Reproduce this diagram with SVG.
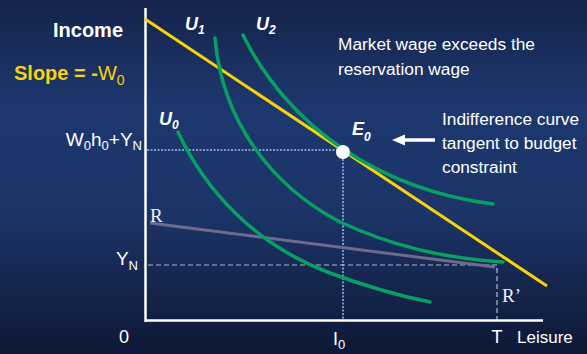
<svg xmlns="http://www.w3.org/2000/svg" width="587" height="354" viewBox="0 0 587 354">
<defs>
<linearGradient id="bg" x1="0" y1="0" x2="0" y2="1">
<stop offset="0" stop-color="#15234a"/>
<stop offset="0.3" stop-color="#1d386f"/>
<stop offset="0.6" stop-color="#1c3468"/>
<stop offset="1" stop-color="#0e1835"/>
</linearGradient>
<marker id="ah" markerWidth="13" markerHeight="12" refX="3" refY="6" orient="auto" markerUnits="userSpaceOnUse">
<path d="M0,0.5 L13,6 L0,11.5 Z" fill="#ffffff"/>
</marker>
<style>
text{font-family:"Liberation Sans",Arial,sans-serif;fill:#ffffff}
.serif{font-family:"Liberation Serif","Times New Roman",serif;fill:#f0f0f5}
.ulab{font-weight:bold;font-style:italic}
.curve{fill:none;stroke:#07a062;stroke-width:3.5;stroke-linecap:round}
.axis{stroke:#ffffff;stroke-width:2.5;fill:none}
.dot{stroke:#9cbcf0;stroke-width:1.5;stroke-dasharray:2 1.5;fill:none}
.dash{stroke:#b4bcd6;stroke-width:1.2;stroke-dasharray:5 3;fill:none}
</style>
</defs>
<rect width="587" height="354" fill="url(#bg)"/>

<g id="guides">
<path class="dot" d="M147,150 H343 M343,152 V320"/>
<path class="dash" d="M148,265 H497 V320"/>
</g>

<g id="axes">
<path class="axis" d="M145.5,8 V322"/>
<path class="axis" d="M145,320.5 H543"/>
</g>

<g id="connectors">
<path id="R-line" d="M150,223 L495,267" stroke="#6d6a8c" stroke-width="3" fill="none"/>
<path id="budget" d="M145,19 L547,286" stroke="#f8d20a" stroke-width="3" fill="none"/>
<path id="U0-curve" class="curve" d="M178,132 C205,190 255,245 330,273 C365,286 400,296 430,302"/>
<path id="U1-curve" class="curve" d="M215,38 C222,120 270,185 340,222 C390,245 440,258 503,262"/>
<path id="U2-curve" class="curve" d="M243,35 C265,80 300,120 343,149 C380,174 430,196 493,204"/>
<path id="arrow" d="M435,140 L402,140" stroke="#ffffff" stroke-width="3.5" fill="none" marker-end="url(#ah)"/>
</g>

<g id="E0">
<circle cx="343" cy="152" r="7" fill="#ffffff"/>
<text class="ulab" x="352" y="135" font-size="18">E<tspan font-size="12" dy="6">0</tspan></text>
</g>

<g id="labels">
<text x="53" y="37" font-size="20" font-weight="bold">Income</text>
<text x="14" y="80" font-size="20" style="fill:#f8d20a"><tspan font-weight="bold">Slope = -</tspan>W<tspan font-size="14" dy="5">0</tspan></text>
<text x="142" y="146" font-size="19" text-anchor="end">W<tspan font-size="13" dy="4">0</tspan><tspan dy="-4">h</tspan><tspan font-size="13" dy="4">0</tspan><tspan dy="-4">+Y</tspan><tspan font-size="13" dy="4">N</tspan></text>
<text x="138" y="265" font-size="19" text-anchor="end">Y<tspan font-size="13" dy="5">N</tspan></text>
<text x="124" y="343" font-size="18" text-anchor="middle">0</text>
<text x="333" y="345" font-size="18">I<tspan font-size="13" dy="4">0</tspan></text>
<text x="497" y="343" font-size="18" text-anchor="middle">T</text>
<text x="517" y="343" font-size="17">Leisure</text>
<text class="serif" x="150" y="222" font-size="19">R</text>
<text class="serif" x="502" y="302" font-size="19">R’</text>
<text class="ulab" x="185" y="30" font-size="18">U<tspan font-size="12" dy="4">1</tspan></text>
<text class="ulab" x="256" y="30" font-size="18">U<tspan font-size="12" dy="4">2</tspan></text>
<text class="ulab" x="159" y="125" font-size="18">U<tspan font-size="12" dy="4">0</tspan></text>
<text x="338" y="50" font-size="17.3">Market wage exceeds the</text>
<text x="338" y="75" font-size="17.3">reservation wage</text>
<text x="442" y="125" font-size="17.3">Indifference curve</text>
<text x="442" y="149" font-size="17.3">tangent to budget</text>
<text x="442" y="173" font-size="17.3">constraint</text>
</g>
</svg>
